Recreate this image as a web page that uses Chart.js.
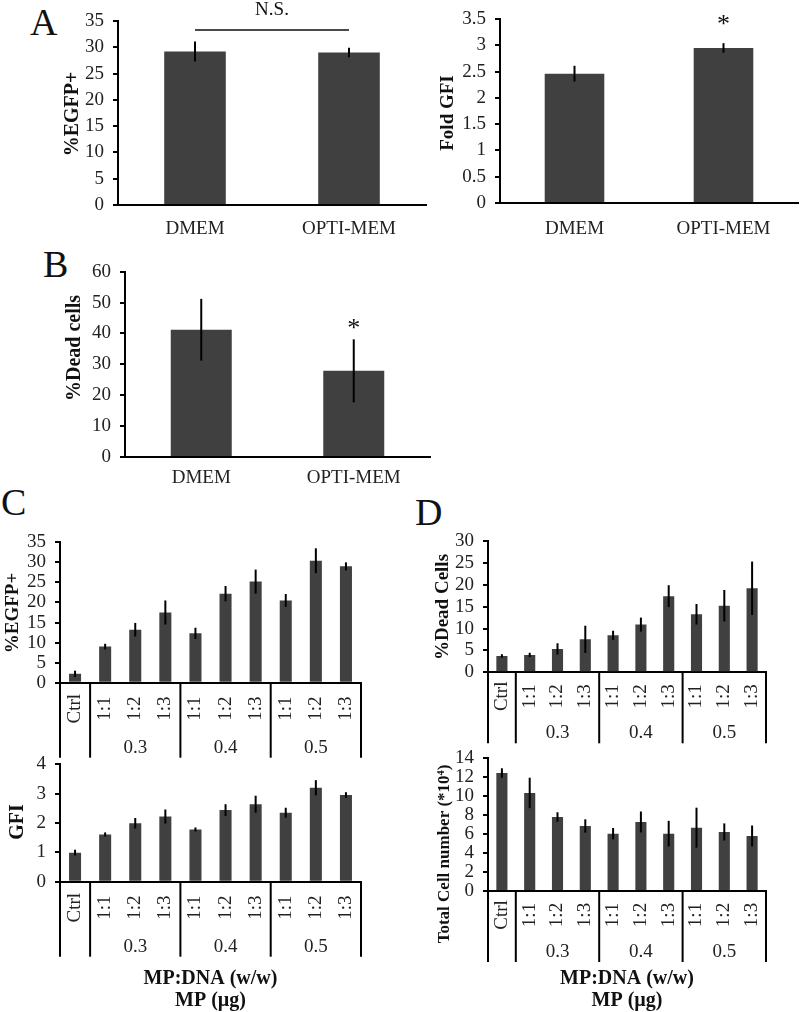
<!DOCTYPE html>
<html><head><meta charset="utf-8">
<script src="https://cdn.jsdelivr.net/npm/chart.js@4.4.1/dist/chart.umd.min.js"></script>
<style>
html,body{margin:0;padding:0;background:#fff;}
#wrap{position:relative;width:800px;height:1012px;overflow:hidden;background:#fff;}
#wrap canvas{position:absolute;}
.lbl{position:absolute;font-family:"Liberation Serif","Times New Roman",serif;font-size:38px;line-height:38px;color:#111;}
</style></head><body>
<div id="wrap">
  <div class="lbl" style="left:30px;top:3px">A</div>
  <div class="lbl" style="left:43px;top:245px">B</div>
  <div class="lbl" style="left:1px;top:483px">C</div>
  <div class="lbl" style="left:415px;top:493px">D</div>
</div>
<script>
// ---------------- data ----------------
const mediaCategories = ['DMEM', 'OPTI-MEM'];
const egfpMedia = [29.2, 29.0];
const egfpMediaErr = [1.9, 0.9];
const gfiMedia = [2.46, 2.95];
const gfiMediaErr = [0.15, 0.09];
const deadMedia = [41.2, 27.9];
const deadMediaErr = [10.0, 10.2];

const ratioLabels = ['Ctrl', '1:1', '1:2', '1:3', '1:1', '1:2', '1:3', '1:1', '1:2', '1:3'];
const mpGroupNames = ['', '0.3', '0.4', '0.5'];
const mpGroupSizes = [1, 3, 3, 3];
const egfpMP = [2.2, 9.0, 13.2, 17.5, 12.3, 22.2, 25.2, 20.5, 30.4, 29.0];
const egfpMPErr = [0.8, 0.7, 1.7, 3.0, 1.4, 1.9, 3.0, 1.6, 3.1, 1.0];
const gfiMP = [0.99, 1.61, 1.99, 2.22, 1.78, 2.44, 2.64, 2.35, 3.2, 2.95];
const gfiMPErr = [0.1, 0.07, 0.18, 0.24, 0.07, 0.2, 0.29, 0.17, 0.26, 0.1];
const deadMP = [3.73, 3.96, 5.33, 7.54, 8.45, 10.9, 17.4, 13.25, 15.2, 19.2];
const deadMPErr = [0.4, 0.5, 1.3, 3.1, 1.05, 1.6, 2.5, 2.35, 3.6, 6.1];
const cellsMP = [12.39, 10.3, 7.77, 6.83, 6.02, 7.25, 6.02, 6.65, 6.2, 5.78];
const cellsMPErr = [0.5, 1.6, 0.5, 0.7, 0.6, 1.1, 1.35, 2.1, 0.9, 1.1];
const xTitleMP = ['MP:DNA (w/w)', 'MP (\u00b5g)'];

// ---------------- style ----------------
const SERIF = '"Liberation Serif", "Times New Roman", serif';
const BAR = '#404040';
const INK = '#222';
const TICK = 19;
const wrap = document.getElementById('wrap');

function makeChart(c) {
  const cv = document.createElement('canvas');
  cv.width = c.box.w; cv.height = c.box.h;
  cv.style.left = c.box.x + 'px'; cv.style.top = c.box.y + 'px';
  cv.style.width = c.box.w + 'px'; cv.style.height = c.box.h + 'px';
  wrap.appendChild(cv);
  const bx = c.box.x, by = c.box.y;

  const decor = {
    id: 'decor',
    afterDatasetsDraw(chart) {
      const ctx = chart.ctx, ys = chart.scales.y;
      const meta = chart.getDatasetMeta(0);
      ctx.save();
      ctx.strokeStyle = '#000'; ctx.lineWidth = 2;
      meta.data.forEach((el, i) => {
        const v = c.values[i], e = c.errors[i];
        ctx.beginPath();
        ctx.moveTo(el.x, ys.getPixelForValue(v + e));
        ctx.lineTo(el.x, ys.getPixelForValue(v - e));
        ctx.stroke();
      });
      ctx.restore();
    },
    afterDraw(chart) {
      const ctx = chart.ctx, xs = chart.scales.x, ys = chart.scales.y;
      // y-axis title
      ctx.save();
      ctx.translate(c.yTitle.x - bx, c.yTitle.y - by);
      ctx.rotate(-Math.PI / 2);
      ctx.font = 'bold ' + (c.yTitle.size || 19) + 'px ' + SERIF;
      ctx.fillStyle = '#111'; ctx.textAlign = 'center'; ctx.textBaseline = 'middle';
      ctx.fillText(c.yTitle.text, 0, 0);
      ctx.restore();
      // annotations
      (c.notes || []).forEach(n => {
        ctx.save();
        ctx.fillStyle = '#111'; ctx.strokeStyle = '#111';
        if (n.type === 'line') {
          ctx.lineWidth = 1.5;
          const y = ys.getPixelForValue(n.y);
          ctx.beginPath();
          ctx.moveTo(xs.getPixelForValue(n.x0), y);
          ctx.lineTo(xs.getPixelForValue(n.x1), y);
          ctx.stroke();
        } else if (n.type === 'text') {
          ctx.font = '19px ' + SERIF; ctx.textAlign = 'center'; ctx.textBaseline = 'middle';
          ctx.fillText(n.text, xs.getPixelForValue(n.x), ys.getPixelForValue(n.y));
        } else if (n.type === 'star') {
          ctx.font = '26px ' + SERIF; ctx.textAlign = 'center'; ctx.textBaseline = 'alphabetic';
          ctx.fillText('*', xs.getPixelForValue(n.x), ys.getPixelForValue(n.y) + 0.47 * 26);
        }
        ctx.restore();
      });
      // grouped category axis
      if (c.groups) {
        const g = c.groups;
        const bottom = chart.chartArea.bottom;
        const bounds = [-0.5];
        let acc = -0.5;
        g.sizes.forEach(s => { acc += s; bounds.push(acc); });
        ctx.save();
        ctx.strokeStyle = '#000'; ctx.lineWidth = 2;
        bounds.forEach(b => {
          const px = xs.getPixelForValue(b);
          ctx.beginPath(); ctx.moveTo(px, bottom); ctx.lineTo(px, bottom + g.lineEnd); ctx.stroke();
        });
        ctx.font = TICK + 'px ' + SERIF; ctx.fillStyle = INK;
        ctx.textAlign = 'center'; ctx.textBaseline = 'middle';
        chart.data.labels.forEach((lab, i) => {
          ctx.save();
          ctx.translate(xs.getPixelForValue(i), bottom + g.labelOff);
          ctx.rotate(-Math.PI / 2);
          ctx.fillText(lab, 0, 0);
          ctx.restore();
        });
        g.names.forEach((name, k) => {
          if (!name) return;
          const mid = (bounds[k] + bounds[k + 1]) / 2;
          ctx.fillText(name, xs.getPixelForValue(mid), bottom + g.groupOff);
        });
        ctx.restore();
      }
    }
  };

  const xScale = {
    type: 'category',
    offset: true,
    grid: { display: false, drawTicks: false },
    border: { display: true, color: '#000', width: 2 },
    ticks: {
      display: !c.groups,
      color: INK,
      font: { family: SERIF, size: TICK, lineHeight: 1.2 },
      padding: c.xPad || 0,
      maxRotation: 0, minRotation: 0, autoSkip: false
    },
    afterFit: s => { s.height = c.box.y + c.box.h - c.plot.b; }
  };
  if (c.xTitle) {
    xScale.title = {
      display: true, text: c.xTitle, color: '#111',
      font: { family: SERIF, size: 20, weight: 'bold', lineHeight: 1.1 },
      padding: { top: 0, bottom: 0 }
    };
  }

  new Chart(cv, {
    type: 'bar',
    data: {
      labels: c.labels,
      datasets: [{
        data: c.values,
        backgroundColor: BAR,
        borderWidth: 0,
        barPercentage: 0.5,
        categoryPercentage: 0.8
      }]
    },
    options: {
      responsive: false,
      animation: false,
      events: [],
      layout: { padding: { top: c.plot.t - by, right: bx + c.box.w - c.plot.r, left: 0, bottom: 0 } },
      plugins: { legend: { display: false }, tooltip: { enabled: false }, title: { display: false } },
      scales: {
        x: xScale,
        y: {
          min: 0, max: c.yMax,
          ticks: {
            stepSize: c.yStep, autoSkip: false, color: INK, padding: 9,
            font: { family: SERIF, size: TICK, lineHeight: 1 },
            callback: v => String(Math.round(v * 100) / 100)
          },
          grid: { drawOnChartArea: false, drawTicks: true, tickLength: 5, color: '#000', lineWidth: 2 },
          border: { display: true, color: '#000', width: 2 },
          afterFit: s => { s.width = c.plot.l - bx; }
        }
      }
    },
    plugins: [decor]
  });
}

// Panel A left
makeChart({
  box: { x: 0, y: 0, w: 440, h: 250 }, plot: { l: 118, t: 21, r: 426, b: 205 },
  labels: mediaCategories, values: egfpMedia, errors: egfpMediaErr,
  yMax: 35, yStep: 5, xPad: 13,
  yTitle: { text: '%EGFP+', x: 73, y: 114, size: 20 },
  notes: [
    { type: 'line', x0: 0, x1: 1, y: 33.3 },
    { type: 'text', text: 'N.S.', x: 0.5, y: 37.1 }
  ]
});
// Panel A right
makeChart({
  box: { x: 430, y: 0, w: 370, h: 250 }, plot: { l: 500, t: 19, r: 798, b: 203 },
  labels: mediaCategories, values: gfiMedia, errors: gfiMediaErr,
  yMax: 3.5, yStep: 0.5, xPad: 15,
  yTitle: { text: 'Fold GFI', x: 448, y: 113, size: 19 },
  notes: [{ type: 'star', x: 1, y: 3.48 }]
});
// Panel B
makeChart({
  box: { x: 0, y: 240, w: 440, h: 260 }, plot: { l: 125, t: 271.7, r: 430, b: 457 },
  labels: mediaCategories, values: deadMedia, errors: deadMediaErr,
  yMax: 60, yStep: 10, xPad: 10,
  yTitle: { text: '%Dead cells', x: 75, y: 348, size: 20 },
  notes: [{ type: 'star', x: 1, y: 43 }]
});
// Panel C top
makeChart({
  box: { x: 0, y: 500, w: 400, h: 262 }, plot: { l: 60, t: 542.3, r: 361, b: 682.7 },
  labels: ratioLabels, values: egfpMP, errors: egfpMPErr,
  yMax: 35, yStep: 5,
  yTitle: { text: '%EGFP+', x: 13, y: 613, size: 19 },
  groups: { names: mpGroupNames, sizes: mpGroupSizes, labelOff: 26, groupOff: 65, lineEnd: 75 }
});
// Panel C bottom
makeChart({
  box: { x: 0, y: 740, w: 400, h: 272 }, plot: { l: 60, t: 764.3, r: 361, b: 881.7 },
  labels: ratioLabels, values: gfiMP, errors: gfiMPErr,
  yMax: 4, yStep: 1, xTitle: xTitleMP,
  yTitle: { text: 'GFI', x: 18, y: 822, size: 20 },
  groups: { names: mpGroupNames, sizes: mpGroupSizes, labelOff: 26, groupOff: 65, lineEnd: 75 }
});
// Panel D top
makeChart({
  box: { x: 400, y: 500, w: 400, h: 250 }, plot: { l: 488, t: 541, r: 766, b: 672.3 },
  labels: ratioLabels, values: deadMP, errors: deadMPErr,
  yMax: 30, yStep: 5,
  yTitle: { text: '%Dead Cells', x: 443, y: 607, size: 19 },
  groups: { names: mpGroupNames, sizes: mpGroupSizes, labelOff: 24, groupOff: 61, lineEnd: 71 }
});
// Panel D bottom
makeChart({
  box: { x: 400, y: 720, w: 400, h: 292 }, plot: { l: 488, t: 757.7, r: 766, b: 891 },
  labels: ratioLabels, values: cellsMP, errors: cellsMPErr,
  yMax: 14, yStep: 2, xTitle: xTitleMP,
  yTitle: { text: 'Total Cell number (*10\u2074)', x: 445, y: 854, size: 17 },
  groups: { names: mpGroupNames, sizes: mpGroupSizes, labelOff: 24, groupOff: 61, lineEnd: 71 }
});
</script>
</body></html>
